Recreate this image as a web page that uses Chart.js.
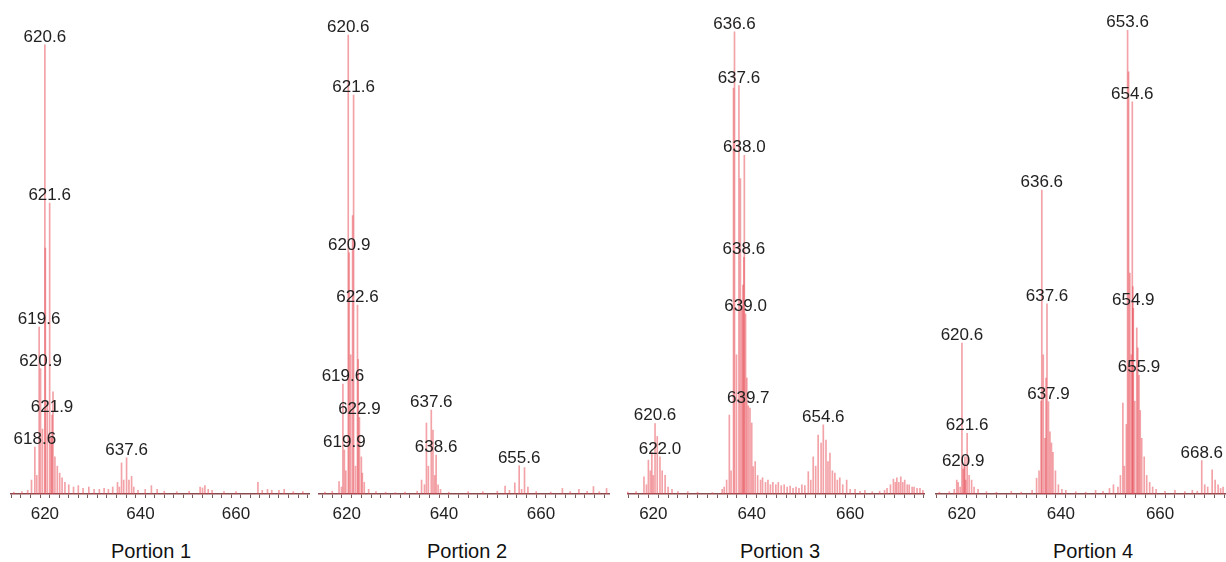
<!DOCTYPE html>
<html>
<head>
<meta charset="utf-8">
<script src="https://cdn.jsdelivr.net/npm/chart.js@4.4.1/dist/chart.umd.min.js"></script>
<style>
  html, body { margin: 0; padding: 0; background: #fff; }
  #wrap { position: relative; width: 1226px; height: 562px; overflow: hidden; }
  .panel { position: absolute; top: 0; }
  .title {
    position: absolute; top: 540px; transform: translateX(-50%);
    font: 20px "Liberation Sans", Arial, sans-serif; color: #111; white-space: nowrap;
  }
</style>
</head>
<body>
<div id="wrap"></div>
<script>
// sticks: [m/z, relative intensity %]
const portion1Peaks = [
  [613.5, 0.4], [615.2, 0.5], [616.4, 0.8], [617.2, 3], [617.9, 10.1], [618.3, 4], [618.8, 36], [619.1, 27],
  [619.5, 14], [620.0, 96.8], [620.1, 53], [620.5, 20], [621.0, 62.7], [621.3, 12], [621.5, 17], [621.7, 22],
  [622.1, 8], [622.6, 6], [623.1, 4.5], [623.6, 3.5], [624.2, 2.5], [625.0, 2], [626.0, 1.5], [627.0, 1.8],
  [628.0, 1.2], [629.2, 1.5], [630.3, 1], [631.4, 1], [632.4, 1.2], [633.3, 1], [634.2, 1.5], [635.2, 2.5],
  [635.6, 1.5], [636.05, 6.7], [636.5, 3], [637.1, 7.8], [637.6, 3], [638.15, 3.8], [638.6, 1.5], [639.5, 0.8],
  [641.0, 1], [642.3, 1.8], [643.5, 1], [645.0, 0.6], [647.6, 0.5], [650.2, 0.6], [652.5, 1.5], [653.0, 1.3],
  [653.5, 1.8], [654.2, 1], [655.0, 0.8], [657.5, 0.5], [660.0, 0.5], [664.6, 2.5], [665.5, 0.8], [666.6, 1],
  [667.5, 0.8], [669.0, 0.8], [670.1, 1], [672.0, 0.5], [674.0, 0.5]
];
const portion1Labels = [
  ['620.6', 620.0], ['621.6', 621.0], ['619.6', 618.8], ['620.9', 619.1], ['621.9', 621.5], ['618.6', 617.9], ['637.6', 637.1]
];

const portion2Peaks = [
  [613.5, 0.3], [615.5, 0.4], [617.0, 0.6], [618.4, 2.7], [618.9, 1.5], [619.2, 23.7], [619.5, 9.5], [619.8, 5],
  [620.3, 98.9], [620.5, 52], [620.8, 30], [621.2, 60], [621.4, 86], [621.8, 6], [622.2, 40.7], [622.35, 29],
  [622.6, 16.5], [623.0, 8], [623.2, 4.5], [623.6, 2.5], [624.5, 1], [626.0, 0.5], [628.0, 0.4], [630.0, 0.3],
  [632.0, 0.4], [634.5, 0.6], [635.4, 3], [636.0, 2], [636.4, 15.3], [636.8, 6], [637.4, 18.1], [637.75, 13.8],
  [638.1, 4], [638.4, 8.4], [638.8, 2], [639.3, 1], [641.0, 0.4], [645.0, 0.5], [648.0, 0.5], [651.0, 0.6],
  [652.6, 1.7], [653.5, 0.8], [654.6, 2.4], [655.5, 6.1], [656.0, 1], [656.6, 5.7], [657.3, 1.5], [659.0, 0.5],
  [662.0, 0.4], [664.4, 1.2], [666.0, 0.5], [667.8, 1], [669.5, 0.6], [670.8, 1.6], [672.0, 0.5], [673.5, 1.2]
];
const portion2Labels = [
  ['620.6', 620.3], ['621.6', 621.4], ['620.9', 620.5], ['622.6', 622.2], ['619.6', 619.2], ['622.9', 622.6],
  ['619.9', 619.5], ['637.6', 637.4], ['638.6', 638.4], ['655.6', 655.5]
];

const portion3Peaks = [
  [614.8, 0.4], [616.5, 0.5], [618.1, 3.7], [618.6, 2], [619.0, 7.3], [619.4, 5], [619.7, 9], [620.0, 4],
  [620.35, 15.2], [620.8, 12.4], [621.35, 8], [621.8, 5], [622.4, 4], [623.0, 1.5], [623.8, 1], [625.0, 0.5],
  [627.0, 0.5], [629.0, 0.4], [632.0, 0.3], [634.0, 1], [634.4, 1.5], [634.9, 3], [635.45, 17], [635.8, 5],
  [636.3, 87.5], [636.5, 99.6], [636.9, 30], [637.4, 88], [637.7, 68], [638.0, 40], [638.2, 45], [638.4, 51],
  [638.5, 73], [638.75, 38.8], [639.0, 25], [639.3, 19], [639.65, 18.5], [640.0, 15.3], [640.3, 5.9], [640.7, 7],
  [641.2, 4], [641.8, 3], [642.2, 3.5], [642.8, 2.5], [643.3, 3], [643.8, 2], [644.3, 2.5], [644.9, 2],
  [645.4, 2.5], [646.0, 1.8], [646.6, 2], [647.2, 1.5], [647.8, 1.7], [648.4, 1.2], [649.0, 1.5], [649.6, 1.2],
  [650.2, 2], [650.8, 1.8], [651.5, 4.8], [652.0, 3], [652.5, 8], [653.0, 6], [653.5, 12.7], [654.1, 11],
  [654.55, 14.9], [655.1, 11.6], [655.5, 7], [655.9, 8.8], [656.4, 5], [656.9, 4.5], [657.4, 3], [657.9, 3.5],
  [658.5, 2], [659.3, 3], [660.0, 1], [661.0, 1], [662.0, 0.6], [663.0, 0.8], [664.5, 0.5], [666.0, 0.6],
  [667.0, 0.8], [667.5, 1.2], [668.2, 2], [668.8, 3.2], [669.2, 2.5], [669.5, 3.5], [669.9, 2.5], [670.3, 3.7],
  [670.7, 2.5], [671.1, 3], [671.6, 2], [672.0, 2], [672.6, 1.5], [673.0, 1.5], [673.6, 1.2], [674.2, 1.2],
  [674.8, 0.8]
];
const portion3Labels = [
  ['636.6', 636.5], ['637.6', 637.4], ['638.0', 638.5], ['638.6', 638.4], ['639.0', 638.75], ['639.7', 639.3],
  ['620.6', 620.35], ['622.0', 621.35], ['654.6', 654.55]
];

const portion4Peaks = [
  [615.5, 0.4], [617.5, 0.5], [618.5, 1], [619.0, 3], [619.3, 2.5], [619.7, 1.5], [620.05, 32.5], [620.3, 5.4],
  [620.5, 5.9], [620.65, 8], [620.8, 3], [621.1, 13.1], [621.5, 4], [622.0, 3], [622.5, 1.5], [623.3, 1],
  [625.0, 0.5], [627.0, 0.4], [630.0, 0.6], [632.0, 0.4], [634.2, 0.8], [635.1, 3.4], [635.6, 5], [636.0, 20],
  [636.15, 65.5], [636.45, 30], [636.8, 12], [637.0, 25], [637.2, 41], [637.5, 19.9], [637.8, 13.4], [638.1, 11],
  [638.4, 9], [638.9, 5], [639.5, 2], [640.2, 1], [641.0, 0.8], [643.0, 0.5], [645.0, 0.4], [647.0, 0.8],
  [648.5, 0.6], [649.8, 1.2], [650.6, 2], [651.5, 1.5], [652.0, 4], [652.5, 19.6], [652.8, 6], [653.2, 15],
  [653.45, 100], [653.65, 91], [653.9, 47.6], [654.2, 30], [654.4, 84.5], [654.5, 44.7], [654.6, 40], [654.9, 20],
  [655.3, 35.8], [655.5, 31.5], [655.75, 25.6], [656.0, 18], [656.3, 12], [656.8, 8], [657.3, 4], [657.9, 2.5],
  [658.5, 1.5], [659.2, 1], [661.0, 0.6], [663.0, 0.8], [665.0, 0.5], [666.5, 0.8], [667.5, 0.6], [668.4, 7.2],
  [669.0, 2], [669.6, 1.5], [670.5, 5.2], [671.1, 3], [671.7, 2], [672.2, 1.2], [672.7, 1.5]
];
const portion4Labels = [
  ['653.6', 653.45], ['654.6', 654.4], ['636.6', 636.15], ['654.9', 654.6], ['620.6', 620.05], ['637.6', 637.2],
  ['655.9', 655.75], ['637.9', 637.5], ['621.6', 621.1], ['620.9', 620.3], ['668.6', 668.4]
];

const portionTitles = ['Portion 1', 'Portion 2', 'Portion 3', 'Portion 4'];
const mzRanges = [[612.7, 675.5], [614.07, 674.19], [614.65, 675.22], [614.62, 673.29]];
const allPeaks = [portion1Peaks, portion2Peaks, portion3Peaks, portion4Peaks];
const allLabels = [portion1Labels, portion2Labels, portion3Labels, portion4Labels];

// layout of the four panels (px)
const boxes = [
  { left: 10, width: 300, titleX: 151 },
  { left: 318, width: 297, titleX: 467 },
  { left: 627, width: 298, titleX: 780 },
  { left: 935, width: 291, titleX: 1093 }
];

const FONT = '"Liberation Sans", Arial, sans-serif';

const peakLabelPlugin = {
  id: 'peakLabels',
  afterDatasetsDraw(chart, args, opts) {
    const { ctx } = chart;
    const x = chart.scales.x, y = chart.scales.y;
    ctx.save();
    ctx.font = '17px ' + FONT;
    ctx.fillStyle = '#222';
    ctx.textAlign = 'center';
    ctx.textBaseline = 'alphabetic';
    opts.labels.forEach(([text, mz]) => {
      const peak = opts.peaks.find(p => p[0] === mz);
      if (!peak) return;
      ctx.fillText(text, x.getPixelForValue(mz), y.getPixelForValue(peak[1]) - 3);
    });
    ctx.restore();
  }
};

const wrap = document.getElementById('wrap');

boxes.forEach((box, i) => {
  const canvas = document.createElement('canvas');
  canvas.className = 'panel';
  canvas.width = box.width;
  canvas.height = 534;
  canvas.style.left = box.left + 'px';
  wrap.appendChild(canvas);

  const title = document.createElement('div');
  title.className = 'title';
  title.style.left = box.titleX + 'px';
  title.textContent = portionTitles[i];
  wrap.appendChild(title);

  const peaks = allPeaks[i];

  new Chart(canvas, {
    type: 'bar',
    data: {
      datasets: [{
        data: peaks.map(([mz, v]) => ({ x: mz, y: v })),
        backgroundColor: 'rgba(232, 70, 80, 0.5)',
        borderWidth: 0,
        barThickness: 1
      }]
    },
    options: {
      responsive: false,
      animation: false,
      layout: { padding: { top: 30, left: 0, right: 0, bottom: 0 } },
      scales: {
        x: {
          type: 'linear',
          min: mzRanges[i][0],
          max: mzRanges[i][1],
          offset: false,
          afterBuildTicks: axis => {
            const t = [];
            for (let v = Math.ceil(axis.min / 2) * 2; v <= axis.max; v += 2) t.push({ value: v });
            axis.ticks = t;
          },
          afterFit: axis => { axis.height = 40; },
          grid: { drawOnChartArea: false, drawTicks: true, tickLength: 4, color: '#7d5a5a' },
          border: { color: '#8a4a4e', width: 1.5 },
          ticks: {
            autoSkip: false,
            maxRotation: 0,
            padding: 6,
            color: '#222',
            font: { size: 17, family: FONT },
            callback: v => (v % 20 === 0 ? String(v) : '')
          }
        },
        y: { display: false, min: 0, max: 100 }
      },
      plugins: {
        legend: { display: false },
        tooltip: { enabled: false },
        peakLabels: { labels: allLabels[i], peaks }
      }
    },
    plugins: [peakLabelPlugin]
  });
});
</script>
</body>
</html>
